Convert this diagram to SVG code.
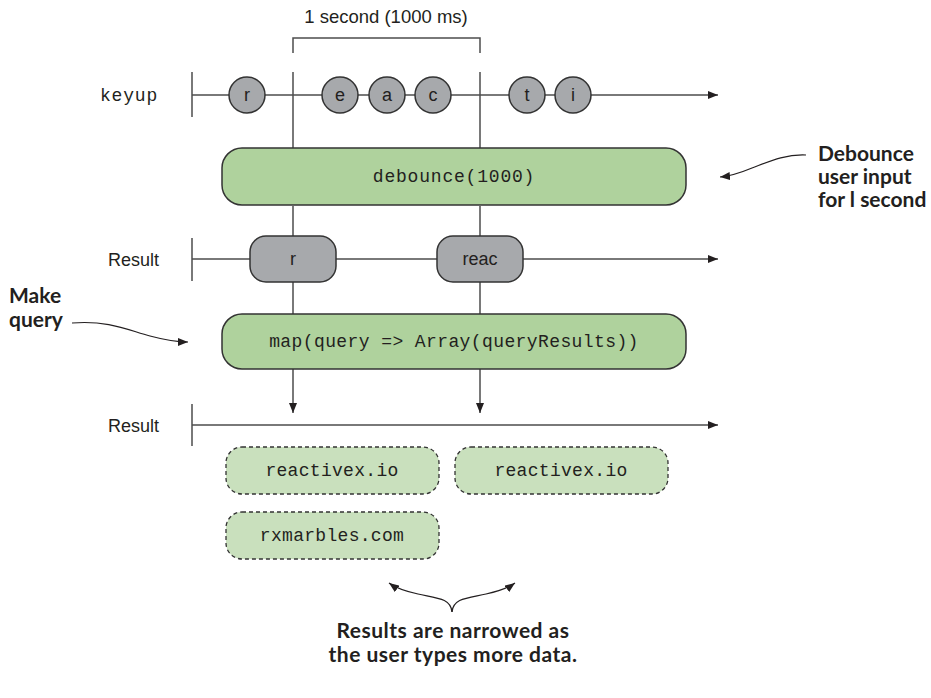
<svg xmlns="http://www.w3.org/2000/svg" width="931" height="698" viewBox="0 0 931 698">
<defs>
<marker id="ah" viewBox="0 0 10 8" refX="10" refY="4" markerWidth="10" markerHeight="8" markerUnits="userSpaceOnUse" orient="auto">
<path d="M0,0 L10,4 L0,8 Z" fill="#231f20"/>
</marker>
<style>
.ax{stroke:#4d4d4d;stroke-width:1.5;fill:none}
.ln{stroke:#4d4d4d;stroke-width:1.5;fill:none}
.cv{stroke:#231f20;stroke-width:1.2;fill:none}
.mb{fill:#a7a9ac;stroke:#333;stroke-width:1.5}
.op{fill:#afd29d;stroke:#333;stroke-width:1.5}
.rs{fill:#c9e0bd;stroke:#333;stroke-width:1.3;stroke-dasharray:4 3}
.sans{font-family:"Liberation Sans",Arial,sans-serif;fill:#231f20}
.mono{font-family:"Liberation Mono","Courier New",monospace;fill:#231f20}
.note{font-family:Lato,"Open Sans",sans-serif;font-weight:bold;font-size:21px;fill:#231f20}
</style>
</defs>

<g id="connectors">
<path class="ln" d="M293,53 V38 H480 V53"/>
<path class="ln" d="M293,72 V148 M480,72 V148"/>
<path class="ln" d="M293,206 V236 M480,206 V236"/>
<path class="ln" d="M293,282 V314 M480,282 V314"/>
<path class="ln" d="M293,369 V413" marker-end="url(#ah)"/>
<path class="ln" d="M480,369 V413" marker-end="url(#ah)"/>
<path class="ax" d="M192,72 V117 M192,95 H718" marker-end="url(#ah)"/>
<path class="ax" d="M192,238 V281 M192,259 H718" marker-end="url(#ah)"/>
<path class="ax" d="M192,404 V446 M192,425 H718" marker-end="url(#ah)"/>
<path class="cv" d="M806,155 C785,154 768,162 752,168 C740,173 730,176 720,177" marker-end="url(#ah)"/>
<path class="cv" d="M72,323 C110,320 130,331 150,336 C165,340 176,342 188,342" marker-end="url(#ah)"/>
<path class="cv" d="M452,612 C451,598 436,598 418,594 C404,591 396,588 389,583" marker-end="url(#ah)"/>
<path class="cv" d="M452,612 C453,598 468,598 486,594 C500,591 508,588 515,583" marker-end="url(#ah)"/>
</g>

<g id="title"><text class="sans" x="386" y="23" font-size="18.5" text-anchor="middle">1 second (1000 ms)</text></g>
<g id="label-keyup"><text class="mono" x="100" y="101" font-size="18" letter-spacing="0.8">keyup</text></g>
<g id="label-result1"><text class="sans" x="159" y="266" font-size="18" text-anchor="end">Result</text></g>
<g id="label-result2"><text class="sans" x="159" y="432" font-size="18" text-anchor="end">Result</text></g>

<g id="marble-r"><circle class="mb" cx="247" cy="95" r="18"/><text class="sans" x="247" y="101" font-size="18" text-anchor="middle">r</text></g>
<g id="marble-e"><circle class="mb" cx="340" cy="95" r="18"/><text class="sans" x="340" y="101" font-size="18" text-anchor="middle">e</text></g>
<g id="marble-a"><circle class="mb" cx="387" cy="95" r="18"/><text class="sans" x="387" y="101" font-size="18" text-anchor="middle">a</text></g>
<g id="marble-c"><circle class="mb" cx="433" cy="95" r="18"/><text class="sans" x="433" y="101" font-size="18" text-anchor="middle">c</text></g>
<g id="marble-t"><circle class="mb" cx="527" cy="95" r="18"/><text class="sans" x="527" y="101" font-size="18" text-anchor="middle">t</text></g>
<g id="marble-i"><circle class="mb" cx="573" cy="95" r="18"/><text class="sans" x="573" y="101" font-size="18" text-anchor="middle">i</text></g>

<g id="debounce"><rect class="op" x="222" y="148" width="464" height="57" rx="20"/><text class="mono" x="454" y="182" font-size="18" letter-spacing="0.8" text-anchor="middle">debounce(1000)</text></g>

<g id="result-r"><rect class="mb" x="250" y="236" width="86" height="46" rx="16"/><text class="sans" x="293" y="265" font-size="18" text-anchor="middle">r</text></g>
<g id="result-reac"><rect class="mb" x="437" y="236" width="86" height="46" rx="16"/><text class="sans" x="480" y="265" font-size="18" text-anchor="middle">reac</text></g>

<g id="map"><rect class="op" x="222" y="314" width="464" height="55" rx="20"/><text class="mono" x="454" y="347" font-size="18" letter-spacing="0.4" text-anchor="middle">map(query =&gt; Array(queryResults))</text></g>

<g id="res1"><rect class="rs" x="226" y="447" width="213" height="47" rx="16"/><text class="mono" x="332" y="476" font-size="18" letter-spacing="0.3" text-anchor="middle">reactivex.io</text></g>
<g id="res2"><rect class="rs" x="455" y="447" width="213" height="47" rx="16"/><text class="mono" x="561" y="476" font-size="18" letter-spacing="0.3" text-anchor="middle">reactivex.io</text></g>
<g id="res3"><rect class="rs" x="226" y="512" width="213" height="47" rx="16"/><text class="mono" x="332" y="541" font-size="18" letter-spacing="0.3" text-anchor="middle">rxmarbles.com</text></g>

<g id="note-debounce"><text class="note"><tspan x="818" y="161">Debounce</tspan><tspan x="818" y="184">user input</tspan><tspan x="818" y="207">for l second</tspan></text></g>
<g id="note-query"><text class="note"><tspan x="9" y="303">Make</tspan><tspan x="9" y="327">query</tspan></text></g>
<g id="note-results"><text class="note" font-size="22" letter-spacing="0.5" text-anchor="middle"><tspan x="453" y="638">Results are narrowed as</tspan><tspan x="453" y="662">the user types more data.</tspan></text></g>
</svg>
